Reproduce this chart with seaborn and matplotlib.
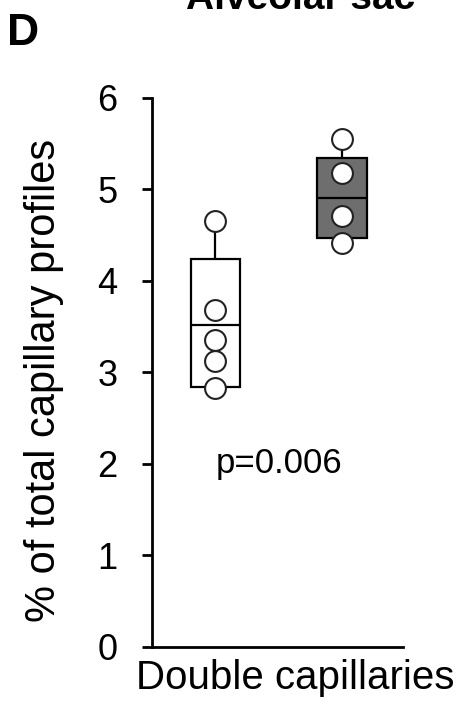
import matplotlib
matplotlib.use("Agg")
import matplotlib.pyplot as plt
import seaborn as sns
import pandas as pd

# data
groups = ["Control", "Treated"]
control_vals = [4.66, 3.68, 3.36, 3.13, 2.83]
treated_vals = [5.55, 5.18, 4.71, 4.42]

# box statistics as drawn in the original (box edges, median, whisker ends)
box_q1 = [2.84, 4.47]
box_med = [3.52, 4.91]
box_q3 = [4.24, 5.34]
whisk_lo = [2.84, 4.47]
whisk_hi = [4.66, 5.55]
box_colors = ["white", "#6e6e6e"]

y_ticks = [0, 1, 2, 3, 4, 5, 6]
p_text = "p=0.006"

df = pd.DataFrame({
    "group": [groups[0]] * len(control_vals) + [groups[1]] * len(treated_vals),
    "value": control_vals + treated_vals,
})

sns.set_style("ticks")
plt.rcParams["font.family"] = ["Liberation Sans", "DejaVu Sans"]
plt.rcParams["text.color"] = "black"
plt.rcParams["axes.labelcolor"] = "black"
plt.rcParams["xtick.color"] = "black"
plt.rcParams["ytick.color"] = "black"
plt.rcParams["axes.edgecolor"] = "black"

fig = plt.figure(figsize=(4.66, 7.2), dpi=100)
ax = fig.add_axes([0.326, 0.1014, 0.539, 0.7625])

stats = []
for i in range(len(groups)):
    stats.append({"q1": box_q1[i], "med": box_med[i], "q3": box_q3[i],
                  "whislo": whisk_lo[i], "whishi": whisk_hi[i], "fliers": []})
bp = ax.bxp(stats, positions=[0, 1], widths=0.39, patch_artist=True,
            showcaps=False, showfliers=False,
            boxprops=dict(edgecolor="black", linewidth=1.6),
            medianprops=dict(color="black", linewidth=1.6),
            whiskerprops=dict(color="black", linewidth=1.6), zorder=2)
for patch, c in zip(bp["boxes"], box_colors):
    patch.set_facecolor(c)

sns.stripplot(data=df, x="group", y="value", order=groups, jitter=False,
              size=15, color="white", edgecolor="#222222", linewidth=1.5,
              ax=ax, zorder=3)

ax.set_xlim(-0.5, 1.48)
ax.set_ylim(0, 6)
ax.set_yticks(y_ticks)
ax.set_yticklabels([str(t) for t in y_ticks])
ax.set_xticks([])
ax.tick_params(axis="y", length=7, width=2, pad=18, labelsize=26)
for side in ["left", "bottom"]:
    ax.spines[side].set_linewidth(2)
ax.spines["top"].set_visible(False)
ax.spines["right"].set_visible(False)

ax.set_xlabel("Double capillaries", fontsize=29)
ax.xaxis.set_label_coords(0.57, -0.022, transform=ax.transAxes)
ax.xaxis.label.set_va("top")
ax.set_ylabel("% of total capillary profiles", fontsize=30)
ax.yaxis.set_label_coords(-0.35, 0.485)

ax.text(0.5, 2.0, p_text, ha="center", va="center", fontsize=25)

fig.text(0.015, 0.982, "D", fontsize=32, fontweight="bold", va="top", ha="left")
fig.text(0.645, 0.988, "Alveolar sac", fontsize=28, fontweight="bold",
         ha="center", va="baseline")

fig.savefig("out.png", dpi=100)
